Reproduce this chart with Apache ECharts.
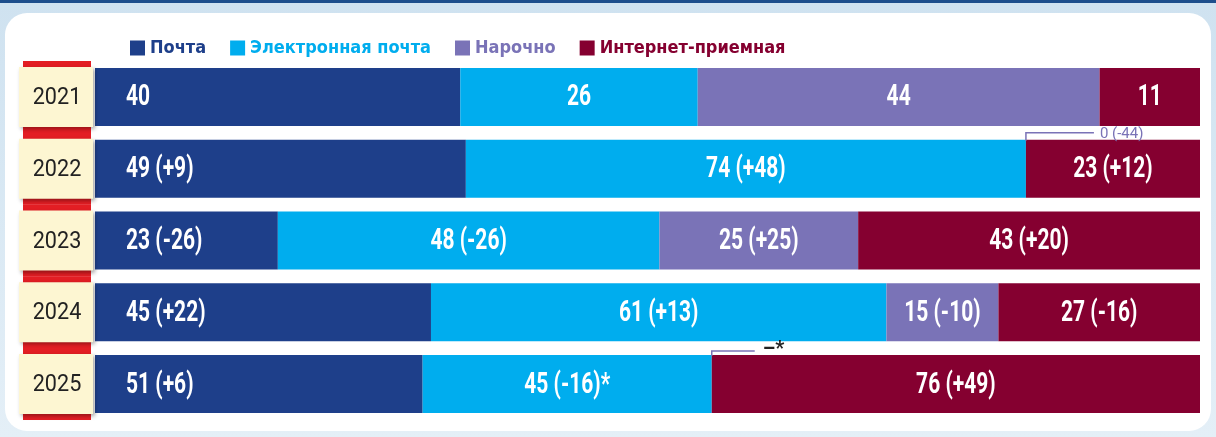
<!DOCTYPE html>
<html>
<head>
<meta charset="utf-8">
<script src="https://cdn.jsdelivr.net/npm/echarts@6/dist/echarts.min.js"></script>
<style>
  html, body { margin: 0; padding: 0; }
  body {
    width: 1216px; height: 437px; position: relative; overflow: hidden;
    background: linear-gradient(#1d4e8c 0, #1d4e8c 3px, #cfe2f0 3px, #e4eff7 100%);
  }
  .card { position: absolute; left: 5px; top: 13px; width: 1206px; height: 418px; background: #fff; border-radius: 22px; }
  #chart { position: absolute; left: 0; top: 0; width: 1216px; height: 437px; }
</style>
</head>
<body>
<div class="card"></div>
<div id="chart"></div>
<script>
// обращения по годам, шт.
const years = ['2021', '2022', '2023', '2024', '2025'];
const pochta = [40, 49, 23, 45, 51];
const email = [26, 74, 48, 61, 45];
const courier = [44, 0, 25, 15, 0];
const internet = [11, 23, 43, 27, 76];
const emailNote = ['', '', '', '', '*'];
const courierNote = ['', '', '', '', '–*'];

const names = ['Почта', 'Электронная почта', 'Нарочно', 'Интернет-приемная'];
const colors = ['#1e3f8a', '#00adee', '#7a73b7', '#850030'];
const raw = [pochta, email, courier, internet];
const notes = [null, emailNote, courierNote, null];
const totals = years.map((_, i) => raw.reduce((s, a) => s + a[i], 0));
const pct = raw.map(a => a.map((v, i) => v / totals[i] * 100));

const NARROW = "'DejaVu Sans Condensed', sans-serif";

function fmtLabel(k, i) {
  const v = raw[k][i];
  let s = String(v);
  if (i > 0) {
    const d = v - raw[k][i - 1];
    s += ' (' + (d > 0 ? '+' : '') + d + ')';
  }
  if (notes[k] && notes[k][i]) s += notes[k][i];
  return s;
}

const chart = echarts.init(document.getElementById('chart'));

const barSeries = names.map((name, k) => ({
  name: name,
  type: 'bar',
  stack: 'all',
  barWidth: 58,
  itemStyle: { color: colors[k] },
  data: pct[k]
}));

// подписи значений (узкий шрифт через scaleX)
const labelData = [];
years.forEach((y, i) => {
  let start = 0;
  raw.forEach((a, k) => {
    if (a[i] > 0) labelData.push([k === 0 ? 0 : start + pct[k][i] / 2, i, k]);
    start += pct[k][i];
  });
});
const labelSeries = {
  type: 'custom',
  clip: false,
  z: 5,
  silent: true,
  data: labelData,
  renderItem: (params, api) => {
    const i = api.value(1), k = api.value(2);
    const p = api.coord([api.value(0), i]);
    return {
      type: 'text',
      x: k === 0 ? p[0] + 31 : p[0],
      y: p[1] + 1,
      scaleX: 0.7,
      style: {
        text: fmtLabel(k, i), fill: '#fff', fontSize: 30, fontWeight: 'bold', fontFamily: 'Roboto',
        align: k === 0 ? 'left' : 'center', verticalAlign: 'middle'
      }
    };
  }
};

// плашки с годами слева от полос
const yearSeries = {
  type: 'custom',
  clip: false,
  z: 10,
  silent: true,
  data: years.map((y, i) => [0, i]),
  renderItem: (params, api) => {
    const p = api.coord([0, api.value(1)]);
    const x = p[0] - 76, y = p[1];
    return {
      type: 'group',
      children: [
        { type: 'rect', shape: { x: x + 4, y: y - 36, width: 68, height: 72 }, style: { fill: '#e31e24' } },
        { type: 'rect', shape: { x: x, y: y - 30, width: 74, height: 60 },
          style: { fill: '#fdf6d2', shadowBlur: 4, shadowOffsetX: 2, shadowOffsetY: 2, shadowColor: 'rgba(0,0,0,0.35)' } },
        { type: 'text', x: x + 38, y: y + 1, scaleX: 0.9,
          style: { text: years[params.dataIndex], fill: '#222', fontSize: 24, fontFamily: 'Roboto', align: 'center', verticalAlign: 'middle' } }
      ]
    };
  }
};

// выноски для нулевых значений «Нарочно»
const calloutData = [];
years.forEach((y, i) => {
  if (courier[i] === 0) calloutData.push([pct[0][i] + pct[1][i], i]);
});
const calloutSeries = {
  type: 'custom',
  clip: false,
  z: 11,
  silent: true,
  data: calloutData,
  renderItem: (params, api) => {
    const i = api.value(1);
    const p = api.coord([api.value(0), i]);
    const top = p[1] - 29;
    const isNote = !!courierNote[i];
    const len = isNote ? 43 : 68;
    const lineY = isNote ? top - 4 : top - 7;
    const text = isNote ? courierNote[i] : fmtLabel(2, i);
    return {
      type: 'group',
      children: [
        { type: 'polyline', shape: { points: [[p[0], top + 1], [p[0], lineY], [p[0] + len, lineY]] },
          style: { stroke: colors[2], lineWidth: 1.5, fill: null } },
        { type: 'text', x: p[0] + len + (isNote ? 8 : 6), y: top - 5,
          style: { text: text, fill: isNote ? '#222' : colors[2], fontSize: isNote ? 20 : 15,
                   fontWeight: isNote ? 'bold' : 'normal', fontFamily: 'Roboto', verticalAlign: 'middle' } }
      ]
    };
  }
};

chart.setOption({
  animation: false,
  legend: {
    left: 125,
    top: 34,
    icon: 'rect',
    itemWidth: 15,
    itemHeight: 15,
    itemGap: 24,
    itemStyle: { borderWidth: 0 },
    textStyle: { fontSize: 18, fontWeight: 'bold', fontFamily: NARROW },
    data: names.map((n, k) => ({ name: n, textStyle: { color: colors[k] } }))
  },
  grid: { left: 95, right: 16, top: 61, bottom: 17 },
  xAxis: { type: 'value', min: 0, max: 100, show: false },
  yAxis: { type: 'category', data: years, inverse: true, show: false },
  series: barSeries.concat([labelSeries, yearSeries, calloutSeries])
});
</script>
</body>
</html>
